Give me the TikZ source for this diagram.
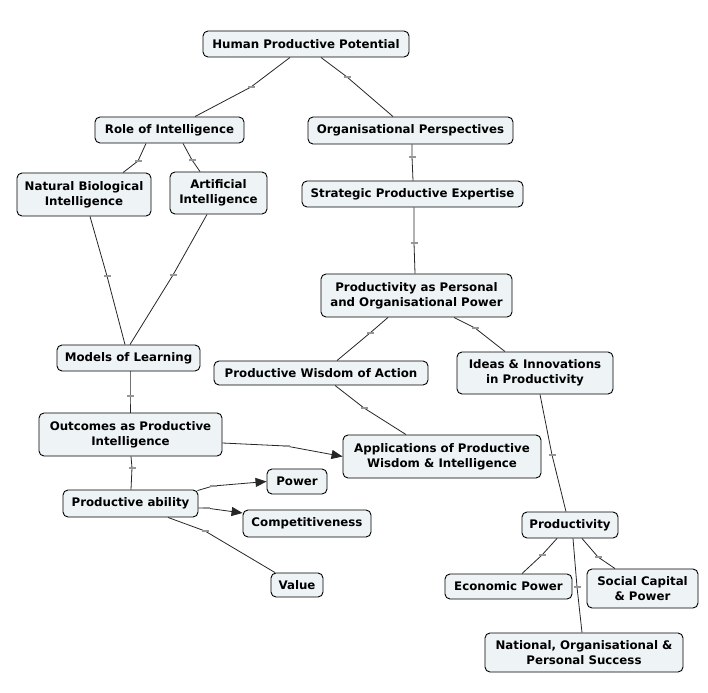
\documentclass[tikz,border=0pt]{standalone}
\usepackage{fontspec}
\setmainfont{DejaVu Sans}
\usetikzlibrary{arrows.meta}
\definecolor{boxfill}{RGB}{238,243,245}
\definecolor{markgray}{RGB}{150,150,150}
\begin{document}
\begin{tikzpicture}[x=1pt,y=-1pt,
  concept/.style={draw=black, line width=0.9pt, fill=boxfill, rounded corners=5pt,
    inner sep=0pt, align=center, font=\bfseries\fontsize{11.8}{15}\selectfont},
  link/.style={line width=0.8pt, draw=black!85},
  arrowlink/.style={link, -{Triangle[length=11pt,width=9pt]}},
  lblmark/.style={fill=markgray, draw=none, minimum width=7pt, minimum height=2pt, inner sep=0pt}
]
\useasboundingbox (0,0) rectangle (708,692);
\fill[white] (0,0) rectangle (708,692);

% concepts
\node[concept, minimum width=206pt, minimum height=26pt] (hpp) at (306,44) {Human Productive Potential};
\node[concept, minimum width=149pt, minimum height=26pt] (role) at (169.5,130) {Role of Intelligence};
\node[concept, minimum width=205pt, minimum height=27pt] (org) at (410.5,130.5) {Organisational Perspectives};
\node[concept, minimum width=221pt, minimum height=26pt] (spe) at (412.5,194) {Strategic Productive Expertise};
\node[concept, minimum width=134pt, minimum height=43pt] (nbi) at (84,194.5) {Natural Biological\\Intelligence};
\node[concept, minimum width=97pt, minimum height=42pt] (ai) at (218.5,193) {Artificial\\Intelligence};
\node[concept, minimum width=143pt, minimum height=26pt] (models) at (128.5,358) {Models of Learning};
\node[concept, minimum width=214pt, minimum height=24pt] (pwoa) at (321,373) {Productive Wisdom of Action};
\node[concept, minimum width=191pt, minimum height=43pt] (papop) at (416.5,295.5) {Productivity as Personal\\and Organisational Power};
\node[concept, minimum width=156pt, minimum height=42pt] (ideas) at (535,373) {Ideas \& Innovations\\in Productivity};
\node[concept, minimum width=183pt, minimum height=43pt] (outcomes) at (130.5,434.5) {Outcomes as Productive\\Intelligence};
\node[concept, minimum width=198pt, minimum height=43pt] (apps) at (442,456.5) {Applications of Productive\\Wisdom \& Intelligence};
\node[concept, minimum width=135pt, minimum height=27pt] (pa) at (130.5,503.5) {Productive ability};
\node[concept, minimum width=60pt, minimum height=25pt] (power) at (297,481.5) {Power};
\node[concept, minimum width=128pt, minimum height=27pt] (comp) at (307,523.5) {Competitiveness};
\node[concept, minimum width=52pt, minimum height=24pt] (value) at (297,585) {Value};
\node[concept, minimum width=96pt, minimum height=26pt] (prod) at (570,525) {Productivity};
\node[concept, minimum width=127pt, minimum height=25pt] (econ) at (508.5,586.5) {Economic Power};
\node[concept, minimum width=111pt, minimum height=39pt] (social) at (642.5,588.5) {Social Capital\\\& Power};
\node[concept, minimum width=198pt, minimum height=39pt] (national) at (584,652.5) {National, Organisational \&\\Personal Success};

% label points of the links
\coordinate (m1) at (251,87);
\coordinate (m2) at (347,77);
\coordinate (m3) at (138,161);
\coordinate (m4) at (192,160);
\coordinate (m5) at (412,157);
\coordinate (m6) at (414,243);
\coordinate (m7) at (107,276);
\coordinate (m8) at (173,275);
\coordinate (m9) at (370,333);
\coordinate (m10) at (475,328);
\coordinate (m11) at (364,408);
\coordinate (m12) at (552,455);
\coordinate (m13) at (130,396);
\coordinate (m14) at (286,446);
\coordinate (m15) at (132,468);
\coordinate (m16) at (213,486);
\coordinate (m17) at (206,508);
\coordinate (m18) at (205,531);
\coordinate (m19) at (542,555);
\coordinate (m20) at (598,557);
\coordinate (m21) at (577,587);

% links
\draw[link] ([xshift=-16pt]hpp.south) -- (m1) -- ([xshift=25.5pt]role.north);
\draw[link] ([xshift=15pt]hpp.south) -- (m2) -- ([xshift=-17.5pt]org.north);
\draw[link] ([xshift=-23.5pt]role.south) -- (m3) -- ([xshift=39pt]nbi.north);
\draw[link] ([xshift=13.5pt]role.south) -- (m4) -- ([xshift=-18.5pt]ai.north);
\draw[link] ([xshift=1.5pt]org.south) -- (m5) -- ([xshift=0.5pt]spe.north);
\draw[link] ([xshift=1.5pt]spe.south) -- (m6) -- ([xshift=-1.5pt]papop.north);
\draw[link] ([xshift=6pt]nbi.south) -- (m7) -- ([xshift=-3.5pt]models.north);
\draw[link] ([xshift=-11.5pt]ai.south) -- (m8) -- ([xshift=1.5pt]models.north);
\draw[link] ([xshift=-28.5pt]papop.south) -- (m9) -- ([xshift=16pt]pwoa.north);
\draw[link] ([xshift=37.5pt]papop.south) -- (m10) -- ([xshift=-30pt]ideas.north);
\draw[link] ([xshift=14pt]pwoa.south) -- (m11) -- ([xshift=-36pt]apps.north);
\draw[link] ([xshift=5pt]ideas.south) -- (m12) -- ([xshift=-4pt]prod.north);
\draw[link] ([xshift=1.5pt]models.south) -- (m13) -- ([xshift=-0.5pt]outcomes.north);
\draw[arrowlink] ([yshift=-8.5pt]outcomes.east) -- (m14) -- (apps.west);
\draw[link] ([xshift=0.5pt]outcomes.south) -- (m15) -- ([xshift=0.5pt]pa.north);
\draw[arrowlink] ([xshift=-1pt,yshift=-1pt]pa.north east) -- (m16) -- (power.west);
\draw[arrowlink] ([yshift=-4.5pt]pa.east) -- (m17) -- ([yshift=10.5pt]comp.west);
\draw[link] ([xshift=37.5pt]pa.south) -- (m18) -- ([xshift=-22pt]value.north);
\draw[link] ([xshift=-13pt]prod.south) -- (m19) -- ([xshift=13.5pt]econ.north);
\draw[link] ([xshift=12pt]prod.south) -- (m20) -- ([xshift=-27.5pt]social.north);
\draw[link] ([xshift=3pt]prod.south) -- (m21) -- ([xshift=-2pt]national.north);

% link label marks
\foreach \m in {m1,m2,m3,m4,m5,m6,m7,m8,m9,m10,m11,m12,m13,m14,m15,m16,m17,m18,m19,m20,m21}
  \node[lblmark] at (\m) {};
\end{tikzpicture}
\end{document}
